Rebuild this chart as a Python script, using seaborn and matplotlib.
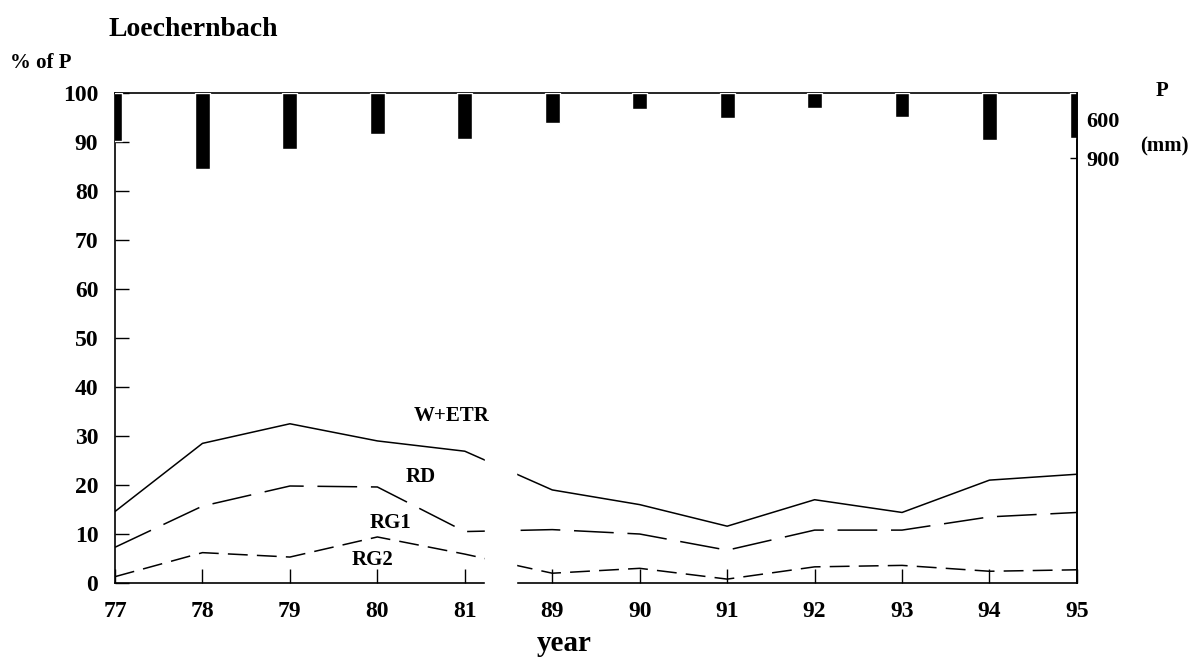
import numpy as np
import pandas as pd
import matplotlib
matplotlib.use("Agg")
import matplotlib.pyplot as plt
import seaborn as sns

# ---- data ----
years = ["77", "78", "79", "80", "81", "89", "90", "91", "92", "93", "94", "95"]
w_etr = [14.6, 28.5, 32.5, 29.0, 26.9, 19.0, 16.0, 11.6, 17.0, 14.4, 21.0, 22.2]
rd    = [7.3, 15.7, 19.8, 19.6, 10.5, 10.9, 10.0, 6.7, 10.8, 10.8, 13.5, 14.4]
rg    = [1.3, 6.2, 5.3, 9.4, 5.9, 2.0, 3.0, 0.8, 3.3, 3.6, 2.4, 2.7]
precip = [770, 980, 830, 710, 750, 630, 520, 595, 512, 584, 760, 745]  # mm
region_labels = ["W+ETR", "RD", "RG1", "RG2"]
p_ticks = [600, 900]

sns.set_theme(style="white")
plt.rcParams["font.family"] = ["Liberation Serif", "DejaVu Serif"]
plt.rcParams["font.weight"] = "bold"
plt.rcParams["text.color"] = "black"
plt.rcParams["axes.labelcolor"] = "black"
plt.rcParams["xtick.color"] = "black"
plt.rcParams["ytick.color"] = "black"

fig = plt.figure(figsize=(11.97, 6.62), dpi=100)
ax = fig.add_axes([0.0961, 0.1193, 0.8036, 0.7402])

xpos = np.arange(len(years))
df = pd.DataFrame({"x": xpos, "W+ETR": w_etr, "RD": rd, "RG": rg})

sns.lineplot(data=df, x="x", y="W+ETR", ax=ax, color="black", linewidth=1.1)
sns.lineplot(data=df, x="x", y="RD", ax=ax, color="black", linewidth=1.1)
ax.lines[-1].set_dashes((26, 9))
sns.lineplot(data=df, x="x", y="RG", ax=ax, color="black", linewidth=1.1)
ax.lines[-1].set_dashes((13, 6))

ax.set_xlim(0, len(years) - 1)
ax.set_ylim(0, 100)
ax.set_yticks(np.arange(0, 101, 10))
ax.set_xticks(xpos)
ax.set_xticklabels(years)
ax.tick_params(axis="both", direction="in", length=10, width=1.0, colors="black",
               labelsize=17, bottom=True, left=True)
ax.tick_params(axis="x", pad=13)
ax.tick_params(axis="y", pad=12)
for lab in ax.get_xticklabels() + ax.get_yticklabels():
    lab.set_fontweight("bold")
    lab.set_color("black")
ax.set_xlabel("year", fontsize=21, fontweight="bold", color="black")
ax.xaxis.set_label_coords(0.467, -0.095)
ax.set_ylabel("")
for s in ax.spines.values():
    s.set_color("black")
    s.set_linewidth(1.2)

# break between 81 and 89
ax.axvspan(4.23, 4.58, ymin=-0.02, ymax=0.5, color="white", zorder=3, clip_on=False)

# region labels
ax.text(3.85, 34, region_labels[0], fontsize=15, fontweight="bold", ha="center", va="center", color="black")
ax.text(3.49, 21.6, region_labels[1], fontsize=15, fontweight="bold", ha="center", va="center", color="black")
ax.text(3.15, 12.2, region_labels[2], fontsize=15, fontweight="bold", ha="center", va="center", color="black")
ax.text(2.95, 4.8, region_labels[3], fontsize=15, fontweight="bold", ha="center", va="center", color="black")

# precipitation bars hanging from the top
ax2 = ax.twinx()
ax2.set_ylim(4150, 400)
ax2.bar(xpos, np.array(precip) - 400, bottom=400, width=0.17, color="black")
ax2.set_yticks(p_ticks)
ax2.tick_params(axis="y", direction="in", length=5, width=1.0, colors="black",
                labelsize=16, pad=7, right=True)
for lab in ax2.get_yticklabels():
    lab.set_fontweight("bold")
    lab.set_color("black")
for k in ["top", "bottom", "left"]:
    ax2.spines[k].set_visible(False)
ax2.spines["right"].set_color("black")
ax2.spines["right"].set_linewidth(1.2)
ax2.grid(False)
ax.grid(False)

fig.text(0.971, 0.862, "P", fontsize=15, fontweight="bold", ha="center", va="center", color="black")
fig.text(0.973, 0.778, "(mm)", fontsize=15, fontweight="bold", ha="center", va="center", color="black")
fig.text(0.091, 0.955, "Loechernbach", fontsize=20, fontweight="bold", ha="left", va="center", color="black")
fig.text(0.008, 0.905, "% of P", fontsize=15, fontweight="bold", ha="left", va="center", color="black")

fig.savefig("out.png", dpi=100)
